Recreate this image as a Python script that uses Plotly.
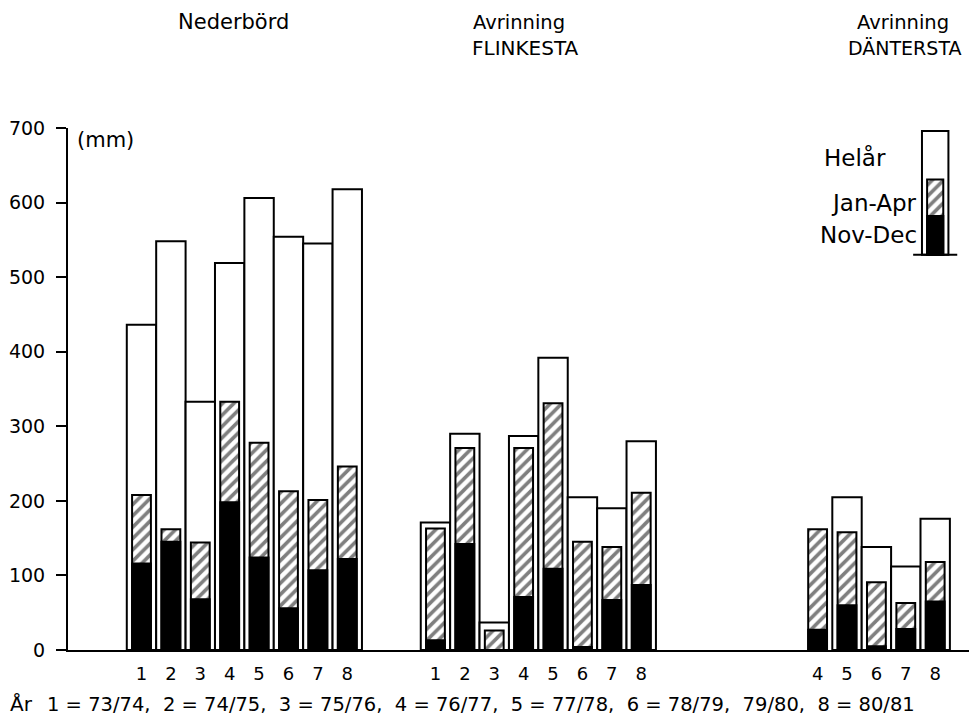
import plotly.graph_objects as go

# ---------------- data (mm) ----------------
years = [1, 2, 3, 4, 5, 6, 7, 8]
year_labels = ["1", "2", "3", "4", "5", "6", "7", "8"]

# Nederbörd
ned_helar = [436, 548, 333, 519, 606, 554, 545, 618]
ned_janapr = [208, 162, 144, 333, 278, 213, 201, 246]
ned_novdec = [116, 145, 68, 198, 124, 56, 107, 122]

# Avrinning FLINKESTA
fli_helar = [171, 290, 37, 287, 392, 205, 190, 280]
fli_janapr = [163, 271, 26, 271, 331, 145, 138, 211]
fli_novdec = [13, 142, 0, 71, 109, 4, 67, 87]

# Avrinning DÄNTERSTA (years 4-8)
dan_years = [4, 5, 6, 7, 8]
dan_labels = ["4", "5", "6", "7", "8"]
dan_helar = [None, 205, 138, 112, 176]
dan_janapr = [162, 158, 91, 63, 118]
dan_novdec = [27, 60, 5, 28, 65]

# legend sample bar (drawn in the empty top-right corner)
legend_year = 8
legend_base = 530
legend_helar = 166
legend_janapr = 101
legend_novdec = 52

group_offsets = [0, 10, 20]  # slot offset of each group

# ---------------- build x positions ----------------
x_ned = [group_offsets[0] + y - 1 for y in years]
x_fli = [group_offsets[1] + y - 1 for y in years]
x_dan = [group_offsets[2] + y - 1 for y in dan_years]

xs = x_ned + x_fli + x_dan
helar = ned_helar + fli_helar + dan_helar
janapr = ned_janapr + fli_janapr + dan_janapr
novdec = ned_novdec + fli_novdec + dan_novdec
ticktext = year_labels + year_labels + dan_labels

FONT = "DejaVu Sans, sans-serif"
LW = 2
HATCH = dict(shape="/", fgcolor="black", bgcolor="white", size=8, solidity=0.45)

fig = go.Figure()
fig.add_trace(go.Bar(x=xs, y=helar, width=1.0, name="Helår",
                     marker=dict(color="white", line=dict(color="black", width=LW))))
fig.add_trace(go.Bar(x=xs, y=janapr, width=0.64, name="Jan-Apr",
                     marker=dict(color="white", line=dict(color="black", width=LW),
                                 pattern=HATCH)))
fig.add_trace(go.Bar(x=xs, y=novdec, width=0.64, name="Nov-Dec",
                     marker=dict(color="black", line=dict(color="black", width=LW))))

# legend sample
x_leg = group_offsets[2] + legend_year - 1
fig.add_trace(go.Bar(x=[x_leg], y=[legend_helar], base=[legend_base], width=0.9,
                     marker=dict(color="white", line=dict(color="black", width=LW))))
fig.add_trace(go.Bar(x=[x_leg], y=[legend_janapr], base=[legend_base], width=0.55,
                     marker=dict(color="white", line=dict(color="black", width=LW),
                                 pattern=HATCH)))
fig.add_trace(go.Bar(x=[x_leg], y=[legend_novdec], base=[legend_base], width=0.55,
                     marker=dict(color="black", line=dict(color="black", width=LW))))
fig.add_trace(go.Scatter(x=[x_leg - 0.75, x_leg + 0.75], y=[legend_base, legend_base],
                         mode="lines", line=dict(color="black", width=LW), hoverinfo="skip"))

W, H = 969, 728
L, R, T, B = 68, 0, 128, 78
pw, ph = W - L - R, H - T - B


def px(x):
    return (x - L) / pw


def py(y):
    return (H - B - y) / ph


annotations = [
    dict(text="Nederbörd", x=px(233), y=py(22), size=21, xanchor="center"),
    dict(text="Avrinning", x=px(471), y=py(22), size=19.5, xanchor="left"),
    dict(text="FLINKESTA", x=px(470), y=py(48), size=20, xanchor="left"),
    dict(text="Avrinning", x=px(855), y=py(22), size=19.5, xanchor="left"),
    dict(text="DÄNTERSTA", x=px(964), y=py(48), size=19, xanchor="right"),
    dict(text="(mm)", x=px(75), y=py(140), size=21, xanchor="left"),
    dict(text="Helår", x=px(855), y=py(157), size=23, xanchor="center"),
    dict(text="Jan-Apr", x=px(919), y=py(203), size=23, xanchor="right"),
    dict(text="Nov-Dec", x=px(919), y=py(235), size=23, xanchor="right"),
    dict(text="År", x=px(8), y=py(704), size=20, xanchor="left"),
    dict(text="1 = 73/74,  2 = 74/75,  3 = 75/76,  4 = 76/77,  5 = 77/78,  6 = 78/79,  79/80,  8 = 80/81",
         x=px(45), y=py(704), size=19.5, xanchor="left"),
]
fig.update_layout(annotations=[
    dict(text=a["text"], x=a["x"], y=a["y"], xref="paper", yref="paper",
         xanchor=a["xanchor"], yanchor="middle", showarrow=False,
         font=dict(family=FONT, size=a["size"], color="black"))
    for a in annotations
])

fig.update_layout(
    width=W, height=H,
    margin=dict(l=L, r=R, t=T, b=B, pad=0),
    paper_bgcolor="white", plot_bgcolor="white",
    barmode="overlay", showlegend=False,
    font=dict(family=FONT, color="black"),
    xaxis=dict(range=[-2.5, 28.15], tickvals=xs, ticktext=ticktext, ticks="",
               showgrid=False, zeroline=False, showline=True, linecolor="black",
               linewidth=LW, tickfont=dict(size=18), ticklabelstandoff=6,
               fixedrange=True),
    yaxis=dict(range=[0, 700], tickvals=[0, 100, 200, 300, 400, 500, 600, 700],
               ticks="outside", ticklen=10, tickwidth=LW, tickcolor="black",
               showgrid=False, zeroline=False, showline=True, linecolor="black",
               linewidth=LW, tickfont=dict(size=19), ticklabelstandoff=7,
               fixedrange=True),
)

fig.write_html("out.html", config={"displayModeBar": False},
               post_script="document.body.style.margin='0';")
